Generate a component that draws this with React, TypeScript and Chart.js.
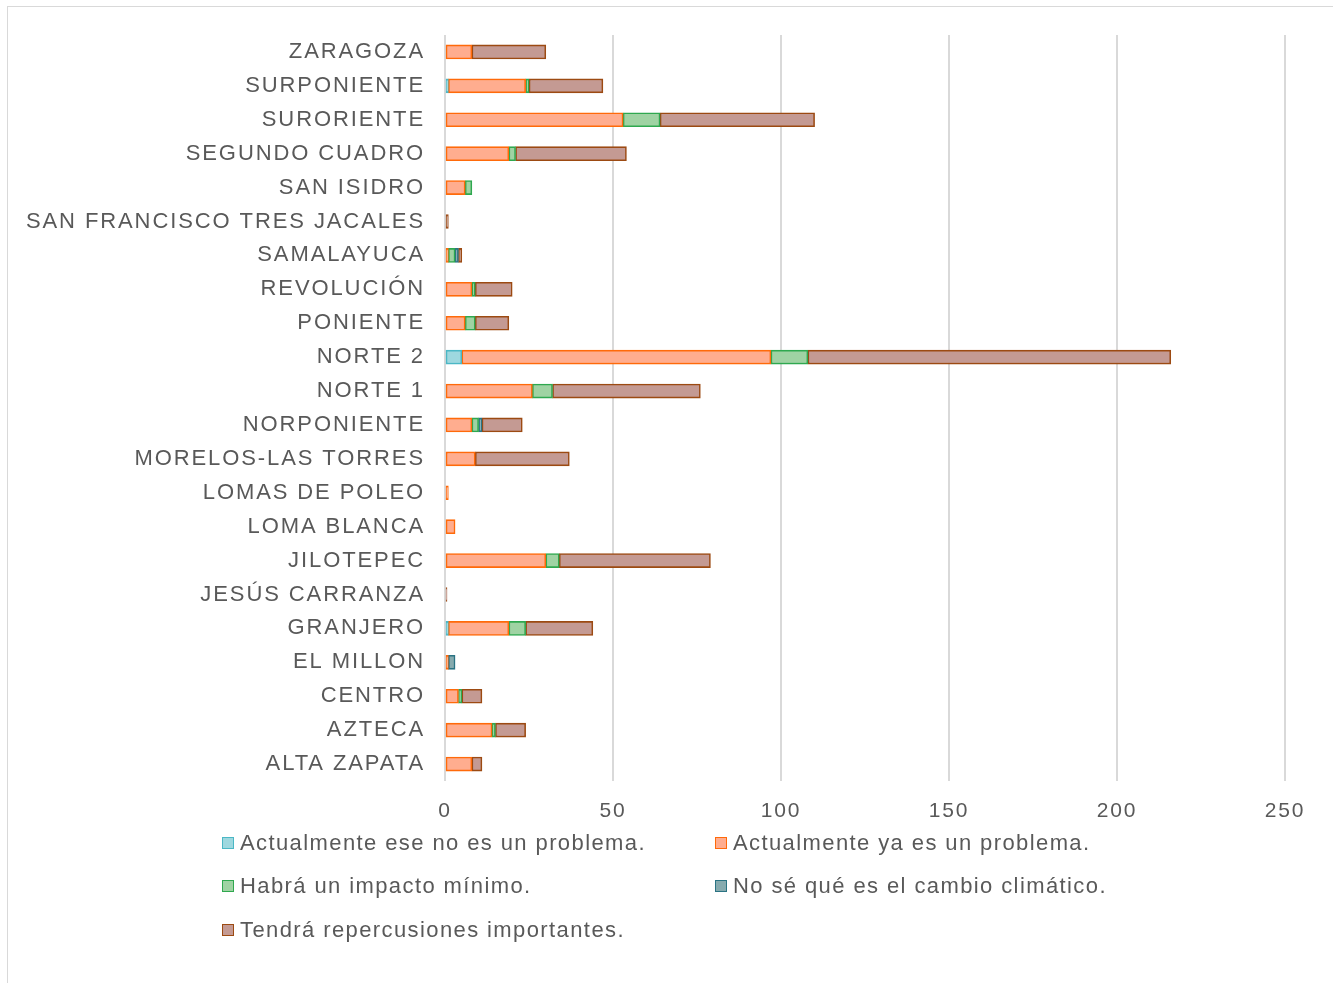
import React, { useEffect, useRef } from "react";
import { Chart, registerables } from "chart.js";

Chart.register(...registerables);

const categories = [
  "ZARAGOZA", "SURPONIENTE", "SURORIENTE", "SEGUNDO CUADRO", "SAN ISIDRO",
  "SAN FRANCISCO TRES JACALES", "SAMALAYUCA", "REVOLUCIÓN", "PONIENTE", "NORTE 2",
  "NORTE 1", "NORPONIENTE", "MORELOS-LAS TORRES", "LOMAS DE POLEO", "LOMA BLANCA",
  "JILOTEPEC", "JESÚS CARRANZA", "GRANJERO", "EL MILLON", "CENTRO", "AZTECA", "ALTA ZAPATA",
];

const noEsProblema = [0, 1, 0, 0, 0, 0, 0, 0, 0, 5, 0, 0, 0, 0, 0, 0, 0, 1, 0, 0, 0, 0];
const yaEsProblema = [8, 23, 53, 19, 6, 0, 1, 8, 6, 92, 26, 8, 9, 1, 3, 30, 0, 18, 1, 4, 14, 8];
const impactoMinimo = [0, 1, 11, 2, 2, 0, 2, 1, 3, 11, 6, 2, 0, 0, 0, 4, 0, 5, 0, 1, 1, 0];
const noSe = [0, 0, 0, 0, 0, 0, 1, 0, 0, 0, 0, 1, 0, 0, 0, 0, 0, 0, 2, 0, 0, 0];
const repercusiones = [22, 22, 46, 33, 0, 1, 1, 11, 10, 108, 44, 12, 28, 0, 0, 45, 0.6, 20, 0, 6, 9, 3];

const xTicks = [0, 50, 100, 150, 200, 250];

const seriesLabels = [
  "Actualmente ese no es un problema.",
  "Actualmente ya es un problema.",
  "Habrá un impacto mínimo.",
  "No sé qué es el cambio climático.",
  "Tendrá repercusiones importantes.",
];
const fills = ["#9ED8DF", "#FFAD8F", "#9FD3A3", "#86AAAE", "#C49A93"];
const borders = ["#4BB7C5", "#FF6A0A", "#2FA84F", "#2A7383", "#9C4A12"];
const seriesData = [noEsProblema, yaEsProblema, impactoMinimo, noSe, repercusiones];

const FONT = "'Liberation Sans', Arial, sans-serif";
const GRAY = "#595959";

const spacingPlugin = {
  id: "letterSpacing",
  beforeUpdate(chart: any) {
    chart.ctx.letterSpacing = "1.9px";
  },
  beforeLayout(chart: any) {
    chart.ctx.letterSpacing = "1.9px";
  },
  beforeDraw(chart: any) {
    chart.ctx.letterSpacing = "1.9px";
  },
};

export default function App() {
  const ref = useRef<HTMLCanvasElement | null>(null);

  useEffect(() => {
    if (!ref.current) return;
    const chart = new Chart(ref.current, {
      type: "bar",
      data: {
        labels: categories,
        datasets: seriesData.map((arr, i) => ({
          label: seriesLabels[i],
          data: arr.map((v) => (v === 0 ? null : v)),
          backgroundColor: fills[i],
          borderColor: borders[i],
          borderWidth: 1.6,
          borderSkipped: false,
          barThickness: 14,
        })),
      },
      options: {
        indexAxis: "y",
        responsive: false,
        animation: false,
        layout: { padding: { top: 35, right: 48, left: 0, bottom: 0 } },
        plugins: { legend: { display: false }, tooltip: { enabled: false } },
        scales: {
          x: {
            stacked: true,
            min: 0,
            max: 250,
            afterBuildTicks: (s: any) => {
              s.ticks = xTicks.map((v) => ({ value: v }));
            },
            afterFit: (s: any) => {
              s.height = 202;
            },
            grid: { color: "#D9D9D9", lineWidth: 2, drawTicks: false },
            border: { display: false },
            ticks: { color: GRAY, font: { family: FONT, size: 21 }, padding: 18 },
          },
          y: {
            stacked: true,
            afterFit: (s: any) => {
              s.width = 445;
            },
            grid: { display: false, drawTicks: false },
            border: { display: false },
            ticks: { color: GRAY, font: { family: FONT, size: 22 }, padding: 20, autoSkip: false },
          },
        },
      },
      plugins: [spacingPlugin],
    });
    return () => chart.destroy();
  }, []);

  const legendItem = (i: number, left: number, top: number) => (
    <div
      key={i}
      style={{
        position: "absolute",
        left,
        top,
        display: "flex",
        alignItems: "center",
        fontFamily: FONT,
        fontSize: 22,
        color: GRAY,
        whiteSpace: "nowrap",
        lineHeight: "26px",
        letterSpacing: "1.4px",
      }}
    >
      <span
        style={{
          display: "inline-block",
          width: 10,
          height: 10,
          background: fills[i],
          border: `1.5px solid ${borders[i]}`,
          marginRight: 6,
        }}
      />
      {seriesLabels[i]}
    </div>
  );

  return (
    <div style={{ position: "absolute", left: 0, top: 0, width: 1333, height: 983, background: "#fff" }}>
      <div
        style={{
          position: "absolute",
          left: 7,
          top: 6,
          width: 1340,
          height: 1000,
          border: "1px solid #D9D9D9",
          boxSizing: "border-box",
        }}
      />
      <canvas ref={ref} width={1333} height={983} style={{ position: "absolute", left: 0, top: 0 }} />
      {legendItem(0, 222, 830)}
      {legendItem(1, 715, 830)}
      {legendItem(2, 222, 873)}
      {legendItem(3, 715, 873)}
      {legendItem(4, 222, 917)}
    </div>
  );
}
